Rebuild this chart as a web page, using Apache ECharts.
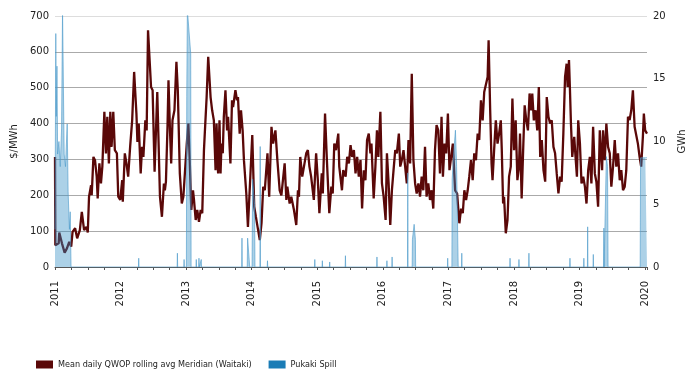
<!DOCTYPE html>
<html>
<head>
<meta charset="utf-8">
<script src="https://cdn.jsdelivr.net/npm/echarts@6/dist/echarts.min.js"></script>
<style>
html,body{margin:0;padding:0;background:#fff;}
#chart{width:695px;height:379px;}
</style>
</head>
<body>
<div id="chart"></div>
<script>
// Time expressed as decimal years
const priceYears = [
2011.000,2011.005,2011.056,2011.065,2011.106,2011.147,2011.182,2011.217,2011.247,2011.268,
2011.307,2011.338,2011.379,2011.409,2011.444,2011.480,2011.500,2011.519,2011.550,2011.560,
2011.586,2011.610,2011.636,2011.651,2011.677,2011.701,2011.722,2011.753,2011.777,2011.798,
2011.822,2011.844,2011.863,2011.889,2011.913,2011.944,2011.965,2011.995,2012.025,2012.034,
2012.065,2012.090,2012.116,2012.146,2012.177,2012.207,2012.242,2012.257,2012.277,2012.307,
2012.328,2012.348,2012.378,2012.398,2012.419,2012.439,2012.465,2012.489,2012.519,2012.560,
2012.601,2012.631,2012.661,2012.676,2012.692,2012.716,2012.731,2012.752,2012.772,2012.792,
2012.822,2012.852,2012.873,2012.904,2012.934,2012.958,2012.973,2013.010,2013.034,2013.055,
2013.079,2013.105,2013.120,2013.146,2013.170,2013.196,2013.222,2013.246,2013.272,2013.287,
2013.313,2013.337,2013.373,2013.397,2013.423,2013.449,2013.464,2013.488,2013.509,2013.525,
2013.540,2013.559,2013.575,2013.600,2013.625,2013.640,2013.676,2013.700,2013.716,2013.752,
2013.776,2013.791,2013.817,2013.837,2013.862,2013.882,2013.918,2013.943,2013.984,2014.009,
2014.039,2014.064,2014.090,2014.124,2014.150,2014.176,2014.200,2014.241,2014.267,2014.302,
2014.327,2014.362,2014.392,2014.427,2014.453,2014.503,2014.529,2014.544,2014.579,2014.604,
2014.645,2014.680,2014.706,2014.721,2014.741,2014.771,2014.806,2014.832,2014.857,2014.881,
2014.907,2014.948,2014.983,2015.009,2015.033,2015.069,2015.085,2015.119,2015.145,2015.184,
2015.215,2015.236,2015.260,2015.286,2015.321,2015.336,2015.377,2015.397,2015.433,2015.457,
2015.483,2015.508,2015.533,2015.559,2015.584,2015.609,2015.634,2015.660,2015.684,2015.710,
2015.735,2015.760,2015.786,2015.811,2015.827,2015.861,2015.887,2015.911,2015.932,2015.963,
2015.987,2016.013,2016.043,2016.063,2016.089,2016.114,2016.139,2016.164,2016.190,2016.214,
2016.245,2016.266,2016.290,2016.316,2016.341,2016.366,2016.392,2016.417,2016.442,2016.467,
2016.493,2016.517,2016.543,2016.568,2016.593,2016.618,2016.644,2016.668,2016.694,2016.720,
2016.744,2016.770,2016.796,2016.820,2016.846,2016.872,2016.896,2016.917,2016.942,2016.967,
2016.993,2017.017,2017.043,2017.068,2017.083,2017.103,2017.134,2017.168,2017.194,2017.220,
2017.244,2017.270,2017.295,2017.319,2017.345,2017.371,2017.395,2017.421,2017.447,2017.471,
2017.497,2017.523,2017.547,2017.573,2017.599,2017.614,2017.638,2017.659,2017.674,2017.698,
2017.724,2017.750,2017.774,2017.800,2017.815,2017.835,2017.850,2017.876,2017.902,2017.926,
2017.952,2017.977,2018.002,2018.027,2018.053,2018.077,2018.093,2018.118,2018.144,2018.164,
2018.189,2018.214,2018.239,2018.265,2018.280,2018.304,2018.330,2018.356,2018.380,2018.401,
2018.425,2018.451,2018.477,2018.501,2018.527,2018.552,2018.577,2018.603,2018.628,2018.653,
2018.679,2018.704,2018.728,2018.754,2018.780,2018.804,2018.819,2018.840,2018.855,2018.870,
2018.890,2018.920,2018.940,2018.961,2018.981,2019.007,2019.031,2019.057,2019.083,2019.107,
2019.133,2019.158,2019.182,2019.208,2019.234,2019.258,2019.284,2019.310,2019.325,2019.345,
2019.360,2019.386,2019.410,2019.436,2019.462,2019.486,2019.512,2019.538,2019.562,2019.588,
2019.614,2019.638,2019.664,2019.690,2019.714,2019.740,2019.765,2019.790,2019.815,2019.841,
2019.865,2019.891,2019.917,2019.941,2019.967,2019.982,2020.002,2020.030
];
const priceValues = [
307,61,66,96,66,40,52,70,57,98,
108,80,103,154,103,112,96,196,228,200,
307,298,252,191,289,233,280,433,317,419,
289,433,335,433,326,317,196,187,242,182,
317,289,252,335,409,544,428,349,400,261,
335,307,409,381,660,665,502,493,266,488,
196,140,233,214,238,391,521,391,289,409,
437,572,493,261,177,196,238,344,400,298,
159,214,187,131,159,126,159,150,326,381,
474,586,474,437,409,270,400,261,409,261,
344,317,419,493,381,419,289,465,446,493,
465,474,372,437,381,298,205,112,270,368,
168,140,112,75,122,224,214,317,196,391,
344,381,298,214,200,289,187,224,177,196,
159,117,214,196,307,252,289,317,326,280,
252,187,317,242,150,261,205,428,307,150,
224,205,344,326,372,280,214,270,252,307,
289,340,307,326,261,307,252,298,163,270,
242,354,372,317,344,191,280,381,307,433,
233,196,131,317,233,117,214,270,326,317,
372,280,298,326,280,233,354,289,539,298,
233,205,233,196,252,214,335,196,233,187,
214,163,326,396,381,261,419,252,344,317,
428,270,307,344,289,214,205,122,163,150,
214,187,214,252,298,242,317,298,372,354,
465,409,488,493,530,632,437,289,242,326,
409,344,372,409,326,177,196,94,131,252,
280,470,326,409,242,280,372,191,344,451,
409,381,484,437,484,409,437,381,502,307,
354,270,238,474,419,400,409,335,317,261,
205,252,238,372,530,567,502,577,493,400,
307,363,307,252,409,344,233,252,224,177,
270,307,233,391,261,238,168,381,326,270,
381,298,400,335,317,224,280,354,280,317,
242,270,214,224,270,419,410,437,493,391,
391,344,307,280,363,428,381,372
];
const spillYears = [
2011.000,2011.012,2011.020,2011.030,2011.040,2011.060,2011.080,2011.100,2011.115,2011.128,
2011.140,2011.160,2011.186,2011.200,2011.220,2011.232,2011.245,
2012.273,2012.277,2012.281,
2012.863,2012.867,2012.871,
2012.965,2012.969,2012.973,
2013.004,2013.010,2013.019,2013.045,2013.070,2013.076,
2013.151,2013.155,2013.159,2013.192,2013.196,2013.200,2013.227,2013.231,2013.235,
2013.848,2013.852,2013.856,2013.932,2013.938,2013.964,2013.970,2014.006,2014.014,2014.044,2014.050,
2014.126,2014.130,2014.134,2014.237,2014.241,2014.245,
2014.959,2014.963,2014.967,2015.074,2015.078,2015.082,2015.186,2015.190,2015.194,
2015.426,2015.430,2015.434,2015.907,2015.911,2015.915,2016.059,2016.063,2016.067,
2016.138,2016.142,2016.146,2016.377,2016.381,2016.385,
2016.448,2016.452,2016.478,2016.497,2016.501,
2016.986,2016.990,2016.994,
2017.054,2017.058,2017.081,2017.108,2017.126,2017.144,2017.150,
2017.201,2017.205,2017.209,2017.937,2017.941,2017.945,2018.073,2018.077,2018.081,
2018.225,2018.229,2018.233,
2018.851,2018.855,2018.859,2019.063,2019.067,2019.071,2019.121,2019.125,2019.129,
2019.207,2019.211,2019.215,2019.368,2019.372,2019.376,
2019.404,2019.410,2019.428,2019.436,
2019.926,2019.932,2019.966,2020.004,2020.030
];
const spillValues = [
3,18.6,12,16,9,10,8,11,20.5,20.5,
9,8,11.4,6,3,4.4,0,
0,0.7,0,
0,1.1,0,
0,0.6,0,
0,13.6,20.5,20.5,17,0,
0,0.6,0,0,0.7,0,0,0.6,0,
0,2.3,0,0,2.3,2.3,0,0,7,5,0,
0,9.6,0,0,0.5,0,
0,0.6,0,0,0.5,0,0,0.4,0,
0,0.9,0,0,0.8,0,0,0.5,0,
0,0.8,0,0,7.5,0,
0,2.2,3.4,2.2,0,
0,0.7,0,
0,7,9,10.9,8,8,0,
0,1.1,0,0,0.7,0,0,0.6,0,
0,1.1,0,
0,0.7,0,0,0.7,0,0,3.2,0,
0,1.0,0,0,3.1,0,
0,8.8,8.0,0,
0,8.7,8.7,8.7,8.7
];
const priceTicks = [0,100,200,300,400,500,600,700];
const spillTicks = [0,5,10,15,20];
const seriesNames = ['Mean daily QWOP rolling avg Meridian (Waitaki)', 'Pukaki Spill'];

const priceData = priceYears.map((t, i) => [t, priceValues[i]]);
const spillData = spillYears.map((t, i) => [t, spillValues[i]]);

const FONT = 'DejaVu Sans';
const chart = echarts.init(document.getElementById('chart'), null, {renderer: 'canvas'});
chart.setOption({
  animation: false,
  backgroundColor: '#ffffff',
  grid: {left: 55, right: 44, top: 16, bottom: 112, containLabel: false},
  legend: {
    left: 31, top: 355,
    itemWidth: 17, itemHeight: 8, itemGap: 17,
    textStyle: {fontFamily: 'DejaVu Sans Condensed', fontSize: 9, color: '#222'},
    data: [
      {name: seriesNames[0], icon: 'rect', itemStyle: {color: '#5a0808'}},
      {name: seriesNames[1], icon: 'rect', itemStyle: {color: '#1a7cb6'}}
    ]
  },
  xAxis: {
    type: 'value', min: 2011, max: 2020.03, interval: 1,
    axisLine: {show: true, lineStyle: {color: '#555', width: 1}},
    axisTick: {show: true, length: 3, lineStyle: {color: '#555'}},
    minorTick: {show: true, splitNumber: 4, length: 3, lineStyle: {color: '#555'}},
    splitLine: {show: false},
    axisLabel: {
      rotate: 90, margin: 14, fontFamily: FONT, fontSize: 10, color: '#222',
      formatter: v => Math.abs(v - Math.round(v)) < 1e-6 ? String(Math.round(v)) : ''
    }
  },
  yAxis: [
    {
      type: 'value', min: priceTicks[0], max: priceTicks[priceTicks.length - 1], interval: 100,
      name: '$/MWh', nameLocation: 'middle', nameGap: 34, nameRotate: 90,
      nameTextStyle: {fontFamily: FONT, fontSize: 10, color: '#222'},
      axisLine: {show: false}, axisTick: {show: false},
      axisLabel: {fontFamily: FONT, fontSize: 10, color: '#222', margin: 6},
      splitLine: {show: true, lineStyle: {color: ['#aaaaaa','#aaaaaa','#aaaaaa','#aaaaaa','#aaaaaa','#aaaaaa','#aaaaaa','#dddddd'], width: 1}}
    },
    {
      type: 'value', min: spillTicks[0], max: spillTicks[spillTicks.length - 1], interval: 5,
      name: 'GWh', nameLocation: 'middle', nameGap: 30, nameRotate: 90,
      nameTextStyle: {fontFamily: FONT, fontSize: 10, color: '#222'},
      axisLine: {show: false}, axisTick: {show: false},
      axisLabel: {fontFamily: FONT, fontSize: 10, color: '#222', margin: 6},
      splitLine: {show: false}
    }
  ],
  series: [
    {
      name: seriesNames[0], type: 'line', yAxisIndex: 0, data: priceData,
      showSymbol: false, symbol: 'none', z: 2,
      lineStyle: {color: '#5a0808', width: 2.3},
      itemStyle: {color: '#5a0808'}
    },
    {
      name: seriesNames[1], type: 'line', yAxisIndex: 1, data: spillData,
      showSymbol: false, symbol: 'none', z: 3,
      lineStyle: {color: '#4f9ccb', width: 0.8, opacity: 0.8},
      areaStyle: {color: '#2f8cc4', opacity: 0.4},
      itemStyle: {color: '#1a7cb6'}
    }
  ]
});
</script>
</body>
</html>
